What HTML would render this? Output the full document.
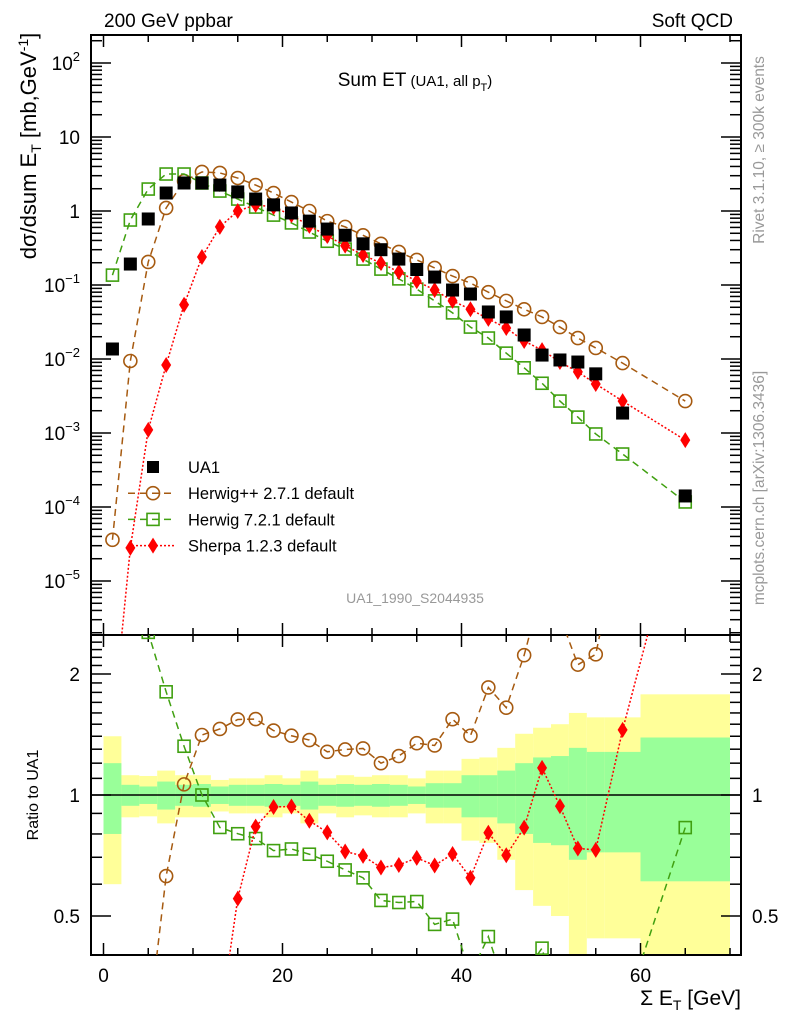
<!DOCTYPE html>
<html><head><meta charset="utf-8"><style>
html,body{margin:0;padding:0;background:#fff;overflow:hidden;width:786px;height:1024px;}
svg{display:block;font-family:"Liberation Sans",sans-serif;}
</style></head><body>
<svg id="c" width="786" height="1024" viewBox="0 0 786 1024" xmlns="http://www.w3.org/2000/svg">
<defs>
<clipPath id="cm"><rect x="91" y="35" width="650" height="600"/></clipPath>
<clipPath id="cr"><rect x="91" y="635" width="650" height="320"/></clipPath>
</defs>
<text x="104" y="27" font-size="19">200 GeV ppbar</text>
<text x="733" y="27" font-size="19" text-anchor="end">Soft QCD</text>
<text x="415" y="86" font-size="19" text-anchor="middle">Sum ET<tspan font-size="15"> (UA1, all p</tspan><tspan font-size="11" dy="5">T</tspan><tspan font-size="15" dy="-5">)</tspan></text>
<text transform="translate(36,146) rotate(-90)" font-size="22" text-anchor="middle">dσ/dsum E<tspan font-size="14" dy="5">T</tspan><tspan dy="-5"> [mb,GeV</tspan><tspan font-size="14" dy="-8">-1</tspan><tspan dy="8">]</tspan></text>
<text transform="translate(764,150) rotate(-90)" font-size="15.5" fill="#999" text-anchor="middle">Rivet 3.1.10, ≥ 300k events</text>
<text transform="translate(764,488) rotate(-90)" font-size="15.5" fill="#999" text-anchor="middle">mcplots.cern.ch [arXiv:1306.3436]</text>
<text x="415" y="603" font-size="14" fill="#999" text-anchor="middle">UA1_1990_S2044935</text>
<text transform="translate(38,795) rotate(-90)" font-size="16" text-anchor="middle">Ratio to UA1</text>
<text x="741" y="1005" font-size="21" text-anchor="end">Σ E<tspan font-size="14" dy="5">T</tspan><tspan dy="-5"> [GeV]</tspan></text>
<g id="bands" clip-path="url(#cr)"></g>
<g id="axes"></g>
<g id="mainMarks" clip-path="url(#cm)"></g>
<g id="ratioMarks" clip-path="url(#cr)"></g>
<g id="legend"></g>
</svg>
<script>
const binEdges=[0,2,4,6,8,10,12,14,16,18,20,22,24,26,28,30,32,34,36,38,40,42,44,46,48,50,52,54,56,60,70];
const xCenters=[1,3,5,7,9,11,13,15,17,19,21,23,25,27,29,31,33,35,37,39,41,43,45,47,49,51,53,55,58,65];
const ua1=[0.01365,0.192,0.78,1.75,2.39,2.39,2.24,1.81,1.45,1.21,0.94,0.73,0.57,0.47,0.36,0.30,0.224,0.162,0.128,0.0855,0.0755,0.0432,0.037,0.0211,0.0113,0.0097,0.0091,0.0063,0.00186,0.000141];
const herwigpp=[3.6e-5,0.0094,0.205,1.10,2.54,3.37,3.27,2.79,2.24,1.75,1.32,1.0,0.73,0.61,0.47,0.36,0.28,0.218,0.17,0.132,0.106,0.080,0.061,0.047,0.037,0.027,0.0192,0.0141,0.0088,0.0027];
const herwig7=[0.136,0.755,1.98,3.16,3.16,2.39,1.86,1.45,1.13,0.88,0.69,0.52,0.39,0.306,0.224,0.164,0.121,0.088,0.061,0.042,0.027,0.0192,0.0120,0.0076,0.0047,0.0027,0.00164,0.00097,0.00052,0.000117];
const sherpa=[1e-7,2.8e-5,0.0011,0.0083,0.054,0.239,0.61,1.0,1.21,1.13,0.88,0.63,0.46,0.34,0.254,0.198,0.15,0.113,0.0855,0.061,0.047,0.0348,0.0262,0.0175,0.0132,0.0091,0.0067,0.0046,0.0027,0.0008];
const statErr=[0.2,0.06,0.05,0.08,0.06,0.065,0.05,0.06,0.06,0.065,0.06,0.08,0.06,0.065,0.06,0.065,0.06,0.05,0.07,0.07,0.12,0.12,0.15,0.2,0.24,0.25,0.31,0.28,0.28,0.39];
const totErr=[0.40,0.12,0.115,0.15,0.12,0.12,0.09,0.10,0.10,0.12,0.10,0.15,0.10,0.12,0.11,0.12,0.12,0.10,0.15,0.15,0.23,0.24,0.31,0.42,0.47,0.50,0.60,0.56,0.56,0.78];
const yTickExp=[-5,-4,-3,-2,-1,0,1,2];
const xTickLabels=[0,20,40,60];
const ratioTickLabels=[0.5,1,2];

const NS="http://www.w3.org/2000/svg";
const X=v=>103.5+v*8.95;
const Y=v=>211-74*Math.log10(v);
const R=r=>795-402*Math.log10(r);
function mk(tag,attrs,parent){const e=document.createElementNS(NS,tag);for(const k in attrs)e.setAttribute(k,attrs[k]);parent.appendChild(e);return e;}
const axes=document.getElementById('axes'),bands=document.getElementById('bands'),mm=document.getElementById('mainMarks'),rm=document.getElementById('ratioMarks'),lg=document.getElementById('legend');

for(let i=0;i<xCenters.length;i++){
  const x0=X(binEdges[i]),x1=X(binEdges[i+1]);
  let e=mk('rect',{x:x0,y:R(1+totErr[i]),width:x1-x0,height:R(Math.max(1-totErr[i],0.05))-R(1+totErr[i]),fill:'#ffff99'},bands);
  
  
}
for(let i=0;i<xCenters.length;i++){
  const x0=X(binEdges[i]),x1=X(binEdges[i+1]);
  let e=mk('rect',{x:x0,y:R(1+statErr[i]),width:x1-x0,height:R(1-statErr[i])-R(1+statErr[i]),fill:'#99ff99'},bands);
  
  
}
let one=mk('line',{x1:91,x2:741,y1:R(1),y2:R(1),stroke:'#000','stroke-width':1.5},bands);



for(const [y0,y1] of [[35,635],[635,955]]){
  let f=mk('rect',{x:91,y:y0,width:650,height:y1-y0,fill:'none',stroke:'#000','stroke-width':2},axes);
  
  
}
for(let v=0;v<=70;v+=5){
  const maj=v%20===0, L=maj?12:7;
  for(const [yb,dir] of [[635,-1],[35,1],[955,-1],[635,1]]){
    mk('line',{x1:X(v),x2:X(v),y1:yb,y2:yb+dir*L,stroke:'#000','stroke-width':1.5},axes);
  }
}
xTickLabels.forEach(v=>{let t=mk('text',{x:X(v),y:982,'font-size':19,'text-anchor':'middle'},axes);t.textContent=v;
  
  });
for(let e=-6;e<=2;e++){
  for(let m=1;m<10;m++){
    const y=Y(m*Math.pow(10,e)); if(y<35||y>635)continue;
    const L=m===1?20:11;
    mk('line',{x1:91,x2:91+L,y1:y,y2:y,stroke:'#000','stroke-width':1.5},axes);
    mk('line',{x1:741,x2:741-L,y1:y,y2:y,stroke:'#000','stroke-width':1.5},axes);
  }
}
yTickExp.forEach(e=>{
  const t=mk('text',{x:80,y:Y(Math.pow(10,e))+7,'font-size':19,'text-anchor':'end'},axes);
  if(e===0)t.textContent='1';else if(e===1)t.textContent='10';
  else{t.textContent='10';const s=mk('tspan',{'font-size':13,dy:-9},t);s.textContent=(e<0?'\u2212':'')+Math.abs(e);}
  
  
});
for(let k=4;k<=25;k++){
  const r=k/10,y=R(r); if(y<635||y>955)continue;
  const L=(k===5||k===10||k===20)?20:11;
  mk('line',{x1:91,x2:91+L,y1:y,y2:y,stroke:'#000','stroke-width':1.5},axes);
  mk('line',{x1:741,x2:741-L,y1:y,y2:y,stroke:'#000','stroke-width':1.5},axes);
}
ratioTickLabels.forEach(r=>{
  for(const [x,a] of [[80,'end'],[752,'start']]){
    const t=mk('text',{x:x,y:R(r)+7,'font-size':19,'text-anchor':a},axes);t.textContent=r;
    
    
  }
});

function marker(type,cx,cy,col,parent){
  let e;
  if(type==='sq') e=mk('rect',{x:cx-6.5,y:cy-6.5,width:13,height:13,fill:'#000'},parent);
  else if(type==='circ') e=mk('circle',{cx:cx,cy:cy,r:6.5,fill:'none',stroke:col,'stroke-width':1.6},parent);
  else if(type==='osq') e=mk('rect',{x:cx-6,y:cy-6,width:12,height:12,fill:'none',stroke:col,'stroke-width':1.6},parent);
  else e=mk('polygon',{points:`${cx},${cy-8} ${cx+5},${cy} ${cx},${cy+8} ${cx-5},${cy}`,fill:col},parent);
  return e;
}
const series=[
 {name:'herwigpp',vals:herwigpp,col:'#a65a10',type:'circ',dash:'7,5'},
 {name:'herwig7',vals:herwig7,col:'#40a010',type:'osq',dash:'7,5'},
 {name:'sherpa',vals:sherpa,col:'#ff0000',type:'dia',dash:'2,2'}
];
series.forEach(s=>{
  const pts=s.vals.map((v,i)=>X(xCenters[i])+','+Y(v)).join(' ');
  let l=mk('polyline',{points:pts,fill:'none',stroke:s.col,'stroke-width':1.5,'stroke-dasharray':s.dash},mm);
  
  
  s.vals.forEach((v,i)=>{
    const e=marker(s.type,X(xCenters[i]),Y(v),s.col,mm);
    
    
  });
  const rp=s.vals.map((v,i)=>X(xCenters[i])+','+R(v/ua1[i])).join(' ');
  let rl=mk('polyline',{points:rp,fill:'none',stroke:s.col,'stroke-width':1.5,'stroke-dasharray':s.dash},rm);
  
  
  s.vals.forEach((v,i)=>{
    const e=marker(s.type,X(xCenters[i]),R(v/ua1[i]),s.col,rm);
    
    
  });
});
ua1.forEach((v,i)=>{
  const e=marker('sq',X(xCenters[i]),Y(v),'#000',mm);
  
  
});
const leg=[['UA1','sq','#000',null],['Herwig++ 2.7.1 default','circ','#a65a10','7,5'],['Herwig 7.2.1 default','osq','#40a010','7,5'],['Sherpa 1.2.3 default','dia','#ff0000','2,2']];
leg.forEach((d,i)=>{
  const y=467+i*26.2;
  const g=mk('g',{},lg);
  
  
  if(d[3])mk('line',{x1:128,x2:176,y1:y,y2:y,stroke:d[2],'stroke-width':1.5,'stroke-dasharray':d[3]},g);
  if(d[1]==='sq')mk('rect',{x:147,y:y-6,width:12,height:12,fill:'#000'},g);else marker(d[1],153,y,d[2],g);
  const t=mk('text',{x:188,y:y+6,'font-size':16.5},g);t.textContent=d[0];
});
</script>
</body></html>
